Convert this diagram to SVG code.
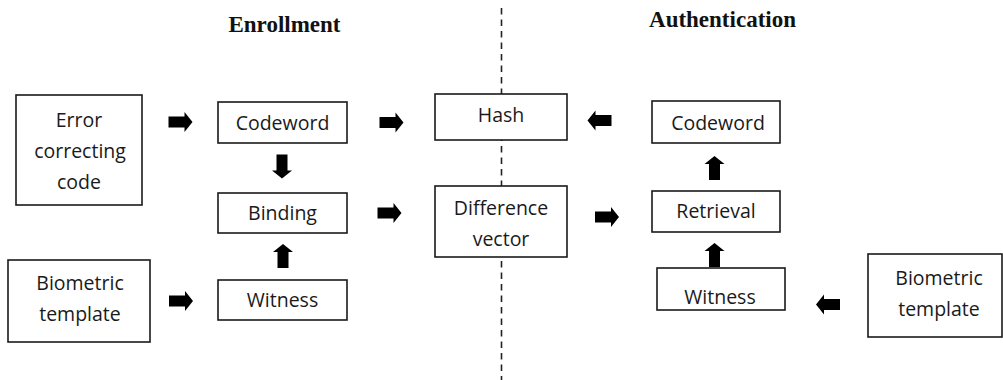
<svg xmlns="http://www.w3.org/2000/svg" width="1003" height="380" viewBox="0 0 1003 380">
<style>
.box{fill:#fff;stroke:#1a1a1a;stroke-width:1.6}
.t{font-family:"Open Sans","Noto Sans",sans-serif;font-size:19.5px;fill:#1a1a1a;text-anchor:middle}
.h{font-family:"Liberation Serif","Times New Roman",serif;font-size:23px;font-weight:bold;fill:#111;text-anchor:middle}
.arr{fill:#000}
</style>
<defs>
<path id="ar" d="M-12,-5.5 H4 V-10 L12,0 L4,10 V5.5 H-12 Z"/>
</defs>
<rect width="1003" height="380" fill="#fff"/>
<line x1="501.5" y1="8" x2="501.5" y2="380" stroke="#222" stroke-width="1.6" stroke-dasharray="6.5,5"/>
<text class="h" x="284.5" y="32">Enrollment</text>
<text class="h" x="722.5" y="27">Authentication</text>
<g id="error-code"><rect class="box" x="16" y="95" width="126" height="110"/><text class="t" x="79" y="127">Error</text><text class="t" x="80" y="158">correcting</text><text class="t" x="79" y="189">code</text></g>
<g id="codeword-enroll"><rect class="box" x="218" y="102" width="129" height="41"/><text class="t" x="282.5" y="130">Codeword</text></g>
<g id="binding"><rect class="box" x="218" y="193" width="129" height="40"/><text class="t" x="282.5" y="220">Binding</text></g>
<g id="witness-enroll"><rect class="box" x="218" y="280" width="129" height="40"/><text class="t" x="282.5" y="307">Witness</text></g>
<g id="biometric-enroll"><rect class="box" x="8" y="260" width="142" height="82"/><text class="t" x="80" y="290">Biometric</text><text class="t" x="80" y="321">template</text></g>
<g id="hash"><rect class="box" x="435" y="94" width="132" height="46"/><text class="t" x="501" y="122">Hash</text></g>
<g id="difference"><rect class="box" x="435" y="186" width="132" height="71"/><text class="t" x="501" y="215">Difference</text><text class="t" x="501" y="246">vector</text></g>
<g id="codeword-auth"><rect class="box" x="652" y="101" width="128" height="42"/><text class="t" x="718" y="130">Codeword</text></g>
<g id="retrieval"><rect class="box" x="652" y="191" width="128" height="41"/><text class="t" x="716" y="218">Retrieval</text></g>
<g id="witness-auth"><rect class="box" x="657" y="268" width="128" height="42"/><text class="t" x="720" y="304">Witness</text></g>
<g id="biometric-auth"><rect class="box" x="868" y="254" width="134" height="83"/><text class="t" x="939" y="285">Biometric</text><text class="t" x="939" y="316">template</text></g>
<g id="connectors" class="arr">
<use href="#ar" transform="translate(180.5,122)"/>
<use href="#ar" transform="translate(282,166.5) rotate(90)"/>
<use href="#ar" transform="translate(283,256) rotate(-90)"/>
<use href="#ar" transform="translate(181,301)"/>
<use href="#ar" transform="translate(391.5,122.5)"/>
<use href="#ar" transform="translate(389.5,213)"/>
<use href="#ar" transform="translate(599.5,120.5) rotate(180)"/>
<use href="#ar" transform="translate(607,217)"/>
<use href="#ar" transform="translate(714.5,168) rotate(-90)"/>
<use href="#ar" transform="translate(714.5,255) rotate(-90)"/>
<use href="#ar" transform="translate(828,304.5) rotate(180)"/>
</g>
</svg>
